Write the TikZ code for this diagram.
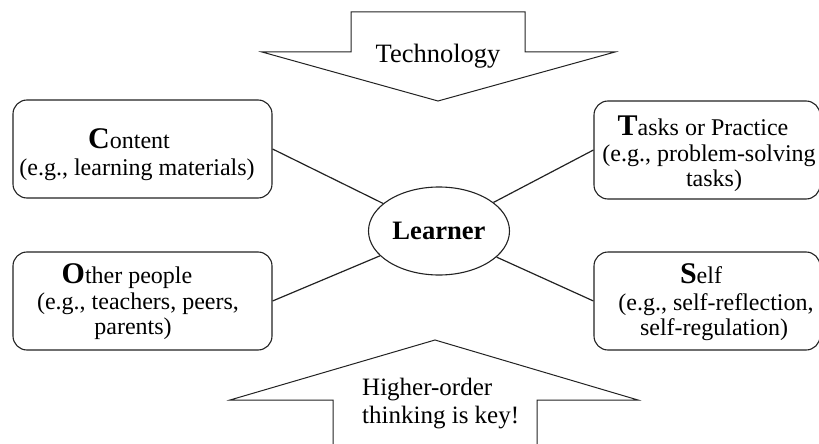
\documentclass[tikz,border=0pt]{standalone}
\usepackage{fontspec}
\setmainfont{Liberation Serif}
\usetikzlibrary{shapes.geometric}
\definecolor{ink}{HTML}{222222}
\tikzset{
  box/.style={draw=ink, rounded corners=14pt, line width=1.1pt, minimum width=259pt, minimum height=98pt, inner sep=0pt},
  rbox/.style={box, minimum width=226pt},
  conn/.style={draw=ink, line width=1.2pt},
  bigarrow/.style={draw=ink, line width=1pt, line join=miter},
  txt/.style={anchor=base, inner sep=0pt, font=\fontsize{24}{25}\selectfont},
  arrtxt/.style={anchor=base west, inner sep=0pt, font=\fontsize{25}{28}\selectfont},
  learnerstyle/.style={ellipse, draw=ink, line width=1.1pt, minimum width=141pt, minimum height=88pt, inner sep=0pt, font=\fontsize{26.6}{28}\selectfont\bfseries}
}
\newcommand\initialletter[1]{{\fontsize{30}{30}\selectfont\bfseries #1}}
\begin{document}
\begin{tikzpicture}[x=1pt,y=-1pt]
\useasboundingbox (0,0) rectangle (819,444);
% arrows
\draw[bigarrow] (351,12) -- (525,12) -- (525,52) -- (615,52) -- (438,101) -- (262,52) -- (351,52) -- cycle;
\draw[bigarrow] (333,444) -- (333,400) -- (230,400) -- (435,340) -- (638,400) -- (537,400) -- (537,444);
\node[anchor=base, inner sep=0pt, font=\fontsize{26.5}{28}\selectfont] (tech) at (438,63) {Technology};
\node[arrtxt] (hot1) at (362,395) {Higher-order};
\node[arrtxt] (hot2) at (362,423) {thinking is key!};
% boxes
\node[box] (content) at (142.5,149) {};
\node[rbox] (tasks) at (707,150) {};
\node[box] (other) at (142.5,301) {};
\node[rbox] (self) at (707,301) {};
\node[learnerstyle] (learner) at (439,231) {Learner};
% connectors
\draw[conn] (content.east) -- (learner);
\draw[conn] (tasks.west) -- (learner);
\draw[conn] (other.east) -- (learner);
\draw[conn] (self.west) -- (learner);
% box texts
\node[txt] (c1) at (129,148) {\initialletter{C}ontent};
\node[txt] (c2) at (137,175) {(e.g., learning materials)};
\node[txt] (t1) at (703,135) {\initialletter{T}asks or Practice};
\node[txt] (t2) at (709,161) {(e.g., problem-solving};
\node[txt] (t3) at (714,186) {tasks)};
\node[txt] (o1) at (127,283) {\initialletter{O}ther people};
\node[txt] (o2) at (138,309) {(e.g., teachers, peers,};
\node[txt] (o3) at (133,334) {parents)};
\node[txt] (s1) at (701,283) {\initialletter{S}elf};
\node[txt] (s2) at (716,310) {(e.g., self-reflection,};
\node[txt] (s3) at (714,335) {self-regulation)};
\end{tikzpicture}
\end{document}
